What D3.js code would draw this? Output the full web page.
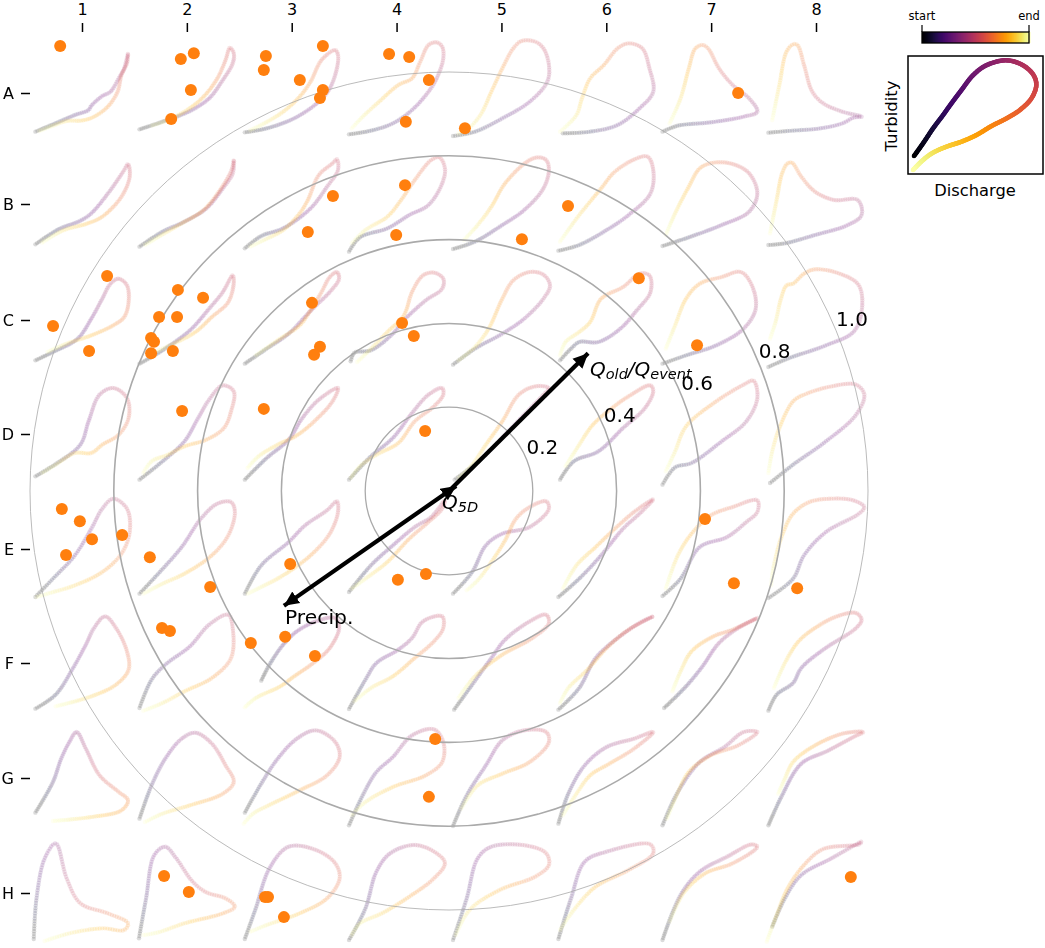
<!DOCTYPE html>
<html><head><meta charset="utf-8">
<script src="https://cdnjs.cloudflare.com/ajax/libs/d3/7.8.5/d3.min.js"></script>
<style>html,body{margin:0;padding:0;background:#fff}svg{display:block}text{font-family:"DejaVu Sans",sans-serif;fill:#000}</style>
</head><body><div id="chart"></div>
<script>
const colLabels=["1","2","3","4","5","6","7","8"];
const rowLabels=["A","B","C","D","E","F","G","H"];
const ringValues=[0.2,0.4,0.6,0.8,1.0];
const loopsA=[
[[0,290],[32,268],[72,240],[97,225],[102,212],[122,183],[137,170],[152,130],[162,100],[169,55],[167,85],[157,120],[150,170],[132,215],[107,245],[87,256],[57,258],[32,272],[7,288]],
[[0,283],[42,260],[92,228],[127,190],[152,135],[170,85],[172,55],[165,38],[157,75],[142,130],[117,185],[87,225],[52,255],[22,272]],
[[0,292],[40,280],[90,250],[135,200],[155,160],[168,100],[170,60],[165,45],[140,75],[120,140],[100,185],[70,230],[30,270],[10,285]],
[[0,298],[40,287],[80,265],[115,225],[145,170],[160,130],[172,70],[170,35],[160,22],[145,30],[130,80],[115,130],[90,150],[55,200],[25,245],[5,280]],
[[0,303],[40,290],[90,250],[140,200],[172,140],[175,90],[165,40],[150,20],[125,18],[110,40],[90,100],[70,170],[50,240],[25,285],[10,295]],
[[8,295],[58,290],[108,270],[148,220],[173,170],[166,100],[153,40],[128,25],[108,40],[83,90],[58,130],[43,190],[33,240],[3,290]],
[[0,290],[28,272],[88,262],[148,245],[173,230],[158,190],[128,150],[103,100],[83,40],[73,30],[60,40],[48,100],[33,190],[13,265]],
[[0,293],[35,288],[95,280],[135,265],[155,248],[170,245],[135,230],[100,205],[80,170],[65,90],[53,30],[45,28],[33,50],[20,150],[7,255]]];
const loopsB=[
[[0,283],[42,238],[82,212],[102,190],[137,120],[162,60],[169,42],[172,80],[157,140],[122,200],[92,222],[52,240],[12,278]],
[[0,290],[42,245],[82,215],[122,175],[152,115],[170,70],[172,30],[168,60],[147,120],[117,180],[77,220],[37,258],[10,285]],
[[0,295],[30,258],[70,235],[120,175],[150,110],[170,60],[168,28],[160,40],[135,75],[115,150],[100,190],[70,240],[35,270],[10,290]],
[[0,305],[20,262],[70,235],[110,195],[145,165],[170,100],[175,55],[165,22],[150,30],[120,90],[95,150],[70,200],[30,240],[5,280]],
[[0,297],[40,275],[90,225],[130,180],[165,115],[175,60],[170,30],[155,22],[135,35],[95,100],[70,170],[45,225],[20,270]],
[[0,302],[38,285],[88,240],[128,195],[168,130],[173,60],[163,20],[143,25],[103,65],[78,115],[38,195],[18,240],[3,275]],
[[0,288],[48,262],[108,225],[158,185],[173,130],[158,70],[128,42],[93,38],[68,55],[48,110],[23,190],[6,255]],
[[0,285],[30,280],[85,255],[145,225],[170,195],[163,150],[120,150],[85,125],[60,80],[43,38],[35,40],[25,70],[15,150],[3,250]]];
const loopsC=[
[[0,295],[32,270],[77,230],[102,170],[122,110],[137,65],[152,50],[167,70],[170,120],[162,165],[142,190],[102,220],[57,245],[22,270]],
[[0,305],[42,265],[92,205],[127,140],[152,90],[170,40],[172,60],[162,120],[132,165],[102,210],[62,245],[22,275]],
[[0,305],[40,260],[80,215],[115,155],[130,130],[155,90],[172,50],[168,30],[155,45],[140,90],[120,145],[100,190],[60,235],[20,280]],
[[3,298],[10,272],[40,265],[80,215],[100,175],[140,115],[170,80],[172,50],[155,32],[135,40],[115,90],[100,160],[70,210],[40,260],[15,300]],
[[0,308],[40,260],[90,215],[130,170],[165,110],[177,70],[165,38],[140,30],[110,55],[90,110],[65,200],[40,255],[10,295]],
[[3,295],[23,260],[38,240],[73,240],[113,200],[143,145],[168,90],[166,40],[148,35],[118,75],[78,110],[58,180],[38,210],[13,240],[3,280]],
[[0,305],[43,280],[98,250],[148,200],[170,140],[163,70],[143,30],[108,45],[68,65],[43,110],[23,190],[6,260]],
[[0,315],[35,290],[105,250],[155,210],[170,150],[165,70],[130,35],[85,22],[65,35],[45,65],[33,70],[23,110],[13,180],[3,230]]];
const loopsD=[
[[0,295],[37,258],[82,200],[97,130],[117,50],[142,30],[167,60],[170,120],[152,170],[122,200],[102,225],[72,225],[37,260],[12,285]],
[[0,305],[42,250],[82,190],[107,120],[127,65],[152,22],[172,40],[167,100],[154,150],[122,185],[82,205],[52,230],[22,250],[7,285]],
[[0,305],[40,240],[80,185],[105,120],[135,65],[170,30],[160,70],[130,125],[95,172],[60,200],[25,235],[5,270]],
[[0,305],[40,235],[80,180],[115,105],[145,50],[170,30],[172,50],[155,85],[120,130],[90,195],[50,230],[20,265],[3,300]],
[[3,305],[50,245],[95,170],[130,110],[165,50],[175,30],[150,25],[120,50],[90,130],[60,200],[35,260],[10,300]],
[[3,305],[28,250],[73,220],[118,150],[158,90],[173,40],[168,22],[128,55],[98,90],[63,140],[38,200],[13,265]],
[[0,320],[23,268],[53,255],[108,190],[153,130],[173,60],[166,8],[148,20],[98,70],[43,145],[23,220],[6,280]],
[[3,315],[45,260],[105,190],[160,110],[175,50],[160,20],[115,25],[65,50],[45,70],[20,150],[7,220],[0,285]]];
const loopsE=[
[[0,315],[32,260],[72,190],[102,110],[122,50],[142,20],[167,50],[172,120],[157,185],[122,240],[72,280],[22,305],[2,315]],
[[0,305],[37,240],[77,165],[112,80],[142,35],[167,30],[174,60],[162,130],[132,190],[82,245],[42,275],[7,305]],
[[0,305],[30,220],[80,150],[110,100],[150,55],[168,28],[170,60],[155,125],[120,190],[70,250],[30,285],[5,305]],
[[0,300],[40,220],[80,160],[120,105],[150,75],[175,25],[170,50],[145,90],[110,140],[70,210],[30,260],[5,290]],
[[0,305],[35,240],[60,160],[90,125],[140,105],[175,50],[170,28],[140,45],[115,80],[95,145],[70,210],[45,265],[25,295]],
[[0,315],[38,260],[78,190],[118,110],[148,65],[173,22],[138,60],[103,110],[68,165],[33,220],[8,290]],
[[0,312],[33,260],[68,165],[118,135],[153,90],[173,60],[173,25],[128,45],[88,70],[53,125],[28,190],[6,290]],
[[0,318],[45,260],[65,190],[105,120],[165,65],[175,45],[155,25],[115,20],[75,30],[45,65],[25,130],[10,220],[5,280]]];
const loopsF=[
[[0,302],[37,260],[67,185],[92,110],[107,60],[127,25],[147,60],[167,130],[170,185],[147,230],[102,265],[37,295]],
[[0,300],[22,215],[47,170],[92,115],[127,50],[162,20],[170,60],[167,150],[132,210],[82,250],[42,285],[7,308]],
[[30,218],[45,170],[70,110],[95,70],[130,40],[165,30],[172,60],[155,120],[125,165],[90,205],[65,235],[20,270],[0,298]],
[[0,303],[30,215],[50,165],[90,125],[115,90],[135,40],[170,25],[172,60],[155,100],[120,150],[80,205],[40,240],[10,280]],
[[2,305],[35,230],[70,150],[95,95],[140,40],[170,20],[175,45],[145,90],[90,140],[40,205],[10,270]],
[[0,305],[38,240],[68,150],[108,90],[148,45],[173,25],[128,65],[88,120],[53,185],[18,240],[3,285]],
[[3,300],[43,235],[73,175],[103,105],[138,60],[173,30],[128,65],[93,85],[53,130],[33,190],[18,250]],
[[0,308],[15,260],[45,225],[60,180],[100,125],[160,60],[170,35],[160,15],[125,25],[85,60],[55,100],[30,165],[10,240]]];
const loopsG=[
[[0,272],[32,180],[47,110],[62,60],[75,30],[92,80],[117,160],[152,210],[169,235],[157,265],[102,285],[32,297]],
[[0,290],[22,190],[47,110],[77,50],[102,32],[132,65],[157,130],[172,180],[152,215],[92,250],[42,275],[10,300]],
[[0,272],[30,185],[60,110],[95,50],[130,25],[165,60],[173,105],[150,160],[100,205],[50,245],[15,275],[-2,305]],
[[0,310],[25,220],[50,150],[80,105],[115,40],[155,22],[172,60],[170,120],[140,160],[80,195],[30,240],[5,280]],
[[0,312],[25,220],[60,130],[90,55],[130,25],[170,30],[175,60],[140,120],[90,155],[45,190],[15,260]],
[[0,305],[18,215],[48,130],[88,75],[138,50],[173,30],[138,80],[93,125],[58,160],[33,215],[8,280]],
[[0,310],[28,210],[68,120],[113,75],[148,30],[173,30],[138,70],[88,100],[48,150],[23,230],[8,290]],
[[0,310],[25,220],[60,125],[110,85],[155,45],[173,30],[135,35],[80,75],[45,120],[30,170],[18,215]]];
const loopsH=[
[[-3,312],[2,190],[17,70],[37,25],[57,130],[82,205],[132,235],[169,265],[162,285],[122,280],[62,295],[17,318]],
[[-1,310],[12,190],[27,60],[47,35],[67,70],[97,140],[122,172],[157,190],[174,215],[152,235],[82,265],[32,293],[7,300]],
[[0,312],[20,220],[45,100],[80,35],[130,45],[165,85],[173,130],[150,190],[100,235],[40,270],[10,290]],
[[0,315],[30,220],[50,110],[75,55],[120,30],[160,55],[175,85],[155,130],[110,185],[60,235],[20,265],[5,300]],
[[0,315],[25,190],[45,70],[70,35],[135,32],[170,55],[175,90],[150,125],[85,165],[30,225],[5,300]],
[[0,312],[23,190],[48,80],[88,50],[168,28],[173,55],[128,105],[68,155],[28,225],[3,285]],
[[0,315],[33,180],[68,110],[118,65],[163,28],[173,35],[128,85],[78,115],[38,175],[13,260]],
[[7,275],[30,190],[60,120],[115,70],[170,20],[165,28],[100,42],[65,90],[35,160],[15,240],[-3,320]]];
const legendLoop=[[18,301],[45,263],[75,218],[105,178],[130,143],[160,103],[195,58],[235,28],[295,13],[345,28],[377,58],[385,88],[370,128],[335,163],[295,188],[250,211],[205,238],[160,258],[115,273],[75,291],[45,313],[15,343]];
const events=[[-.928,1.062],[-.640,1.031],[-.609,1.045],[-.616,.957],[-.663,.888],[-.437,1.038],[-.442,1.005],[-.356,.981],[-.301,1.062],[-.301,.957],[-.308,.938],[-.143,1.043],[-.095,1.036],[-.048,.981],[-.103,.881],[.038,.866],[.690,.950],
[-.277,.704],[-.105,.730],[-.337,.618],[-.126,.611],[.174,.601],[.284,.680],
[-.816,.513],[-.945,.394],[-.859,.334],[-.647,.480],[-.587,.461],[-.692,.415],[-.649,.415],[-.711,.365],[-.704,.356],[-.711,.329],[-.659,.334],[-.327,.449],[-.308,.344],[-.322,.325],[-.112,.401],[-.084,.370],[.453,.508],[.592,.348],
[-.637,.191],[-.442,.196],[-.057,.143],
[-.924,-.043],[-.881,-.072],[-.852,-.115],[-.780,-.105],[-.914,-.153],[-.714,-.158],[-.570,-.229],[-.379,-.174],[-.122,-.212],[-.055,-.198],[.611,-.067],[.680,-.220],[.831,-.232],
[-.685,-.327],[-.666,-.334],[-.473,-.363],[-.391,-.348],[-.320,-.394],
[-.033,-.592],[-.048,-.730],
[-.680,-.919],[-.621,-.957],[-.439,-.969],[-.432,-.969],[-.394,-1.017],[.959,-.921]];
const arrowEnds=[[.332,.329],[-.394,-.274],[.017,.012]];

const W=1045,H=948;
const svg=d3.select("#chart").append("svg").attr("width",W).attr("height",H);
const defs=svg.append("defs");
defs.append("filter").attr("id","soft").attr("x","-5%").attr("y","-5%").attr("width","110%").attr("height","110%")
  .append("feGaussianBlur").attr("stdDeviation",0.75);
defs.append("marker").attr("id","head").attr("markerUnits","userSpaceOnUse").attr("orient","auto")
  .attr("viewBox","-15 -8 16 16").attr("refX",0).attr("refY",0).attr("markerWidth",16).attr("markerHeight",16)
  .append("path").attr("d","M-15,-7L0,0L-15,7Z").attr("fill","#000");

const colLeft=[35.4,139.5,244.8,349,453,558.4,662.5,768.4];
const rowTop=[35,150,262,378,492,608,722,835];
const colTicks=d3.scalePoint().domain(colLabels).range([82,816]);
const rowTicks=d3.scaleOrdinal().domain(rowLabels).range([93,204,320,434,549,663,778,893]);
const qScale=d3.scaleLinear().domain([0,182.4]).range([0,100]);
const tScale=d3.scaleLinear().domain([0,330]).range([0,110]);
const cx=449,cy=491,R=419;
const px=d3.scaleLinear().domain([-1,1]).range([cx-R,cx+R]);
const py=d3.scaleLinear().domain([-1,1]).range([cy+R,cy-R]);
const rr=d3.scaleLinear().domain([0,1]).range([0,R]);

function sample(points,line,n){
  const p=document.createElementNS("http://www.w3.org/2000/svg","path");
  p.setAttribute("d",line(points));
  const len=p.getTotalLength();
  return d3.range(n+1).map(i=>{const q=p.getPointAtLength(len*i/n);return {x:q.x,y:q.y,t:i/n};});
}
const gLoops=svg.append("g").attr("filter","url(#soft)");
[loopsA,loopsB,loopsC,loopsD,loopsE,loopsF,loopsG,loopsH].forEach((row,ri)=>{
  row.forEach((loop,ci)=>{
    const line=d3.line().x(d=>colLeft[ci]+qScale(d[0])).y(d=>rowTop[ri]+tScale(d[1])).curve(d3.curveCatmullRom.alpha(0.5));
    gLoops.append("g").selectAll("circle").data(sample(loop,line,120)).join("circle")
      .attr("cx",d=>d.x).attr("cy",d=>d.y).attr("r",2.2)
      .attr("fill",d=>d3.interpolateInferno(d.t)).attr("opacity",0.14);
  });
});

// rings
const ringW={0.2:1.3,0.4:1.5,0.6:1.6,0.8:1.6,1:0.8};
svg.append("g").selectAll("circle").data(ringValues).join("circle")
  .attr("cx",px(0)).attr("cy",py(0)).attr("r",d=>rr(d)).attr("fill","none")
  .attr("stroke","#aaa").attr("stroke-width",d=>ringW[d]);
const ang=22.5*Math.PI/180;
svg.append("g").selectAll("text").data(ringValues).join("text")
  .attr("x",d=>px(0)+rr(d)*Math.cos(ang)).attr("y",d=>py(0)-rr(d)*Math.sin(ang)-5)
  .attr("font-size",20).text(d=>d.toFixed(1));

// events
svg.append("g").selectAll("circle").data(events).join("circle")
  .attr("cx",d=>px(d[0])).attr("cy",d=>py(d[1])).attr("r",6).attr("fill","#ff7f0e");

// arrows
svg.append("g").selectAll("line").data(arrowEnds).join("line")
  .attr("x1",px(0)).attr("y1",py(0)).attr("x2",d=>px(d[0])).attr("y2",d=>py(d[1]))
  .attr("stroke","#000").attr("stroke-width",4.2).attr("marker-end","url(#head)");

const t1=svg.append("text").attr("x",590).attr("y",376).attr("font-size",20).attr("font-style","italic");
t1.append("tspan").text("Q");
t1.append("tspan").attr("font-size",14.5).attr("dy",3).text("old");
t1.append("tspan").attr("dy",-3).text("/Q");
t1.append("tspan").attr("font-size",14.5).attr("dy",3).text("event");
const t2=svg.append("text").attr("x",442).attr("y",509).attr("font-size",20).attr("font-style","italic");
t2.append("tspan").text("Q");
t2.append("tspan").attr("font-size",14.5).attr("dy",3).text("5D");
svg.append("text").attr("x",285).attr("y",624).attr("font-size",20.3).text("Precip.");

// axes
const axTop=svg.append("g").attr("transform","translate(0,32)").call(d3.axisTop(colTicks).tickSize(9).tickPadding(8));
const axLeft=svg.append("g").attr("transform","translate(30,0)").call(d3.axisLeft(rowTicks).tickSize(9).tickPadding(7));
[axTop,axLeft].forEach(a=>{a.select(".domain").remove();
  a.selectAll(".tick line").attr("stroke","#000").attr("stroke-width",1.5);
  a.selectAll(".tick text").attr("font-size",16).attr("font-family","DejaVu Sans").attr("fill","#000");});

// legend inset
const lx=d3.scaleLinear().domain([0,405]).range([908,1043]);
const ly=d3.scaleLinear().domain([0,355]).range([56,174]);
const cb=d3.scaleLinear().domain([0,1]).range([922,1029]);
const gLeg=svg.append("g");
gLeg.selectAll("rect.s").data(d3.range(0,1,1/107)).join("rect").attr("class","s")
  .attr("x",d=>cb(d)).attr("y",32).attr("width",1.4).attr("height",11).attr("fill",d=>d3.interpolateInferno(d));
gLeg.append("rect").attr("x",cb(0)).attr("y",32).attr("width",cb(1)-cb(0)).attr("height",11).attr("fill","none").attr("stroke","#000").attr("stroke-width",1.3);
gLeg.selectAll("line.c").data([[0,"start"],[1,"end"]]).join("line").attr("class","c")
  .attr("x1",d=>cb(d[0])).attr("x2",d=>cb(d[0])).attr("y1",25).attr("y2",32).attr("stroke","#000").attr("stroke-width",1.2);
gLeg.selectAll("text.c").data([[0,"start"],[1,"end"]]).join("text").attr("class","c")
  .attr("x",d=>cb(d[0])).attr("y",20).attr("text-anchor","middle").attr("font-size",11.5).text(d=>d[1]);
const legLine=d3.line().x(d=>lx(d[0])).y(d=>ly(d[1])).curve(d3.curveCatmullRom.alpha(0.5));
gLeg.append("g").selectAll("circle").data(sample(legendLoop,legLine,400)).join("circle")
  .attr("cx",d=>d.x).attr("cy",d=>d.y).attr("r",2.3).attr("fill",d=>d3.interpolateInferno(d.t));
gLeg.append("rect").attr("x",lx(0)).attr("y",ly(0)).attr("width",lx(405)-lx(0)).attr("height",ly(355)-ly(0)).attr("fill","none").attr("stroke","#000").attr("stroke-width",1.5);
gLeg.append("text").attr("x",975).attr("y",196).attr("text-anchor","middle").attr("font-size",16.3).text("Discharge");
gLeg.append("text").attr("transform","translate(897,116) rotate(-90)").attr("text-anchor","middle").attr("font-size",16.5).text("Turbidity");
</script></body></html>
